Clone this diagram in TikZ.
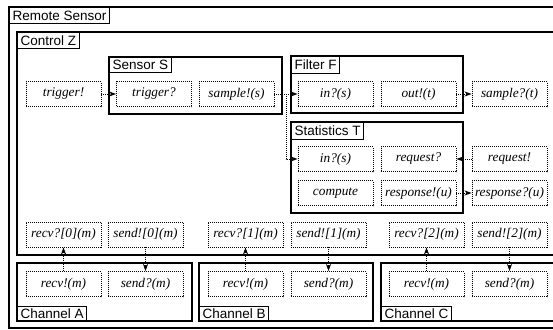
\documentclass[tikz,border=0pt]{standalone}
\usepackage{fontspec}
\setmainfont{Liberation Serif}
\setsansfont{Liberation Sans}
\usetikzlibrary{arrows.meta}
\tikzset{
  dnode/.style={draw, dash pattern=on 1pt off 1pt, line width=0.9pt, minimum width=75pt, minimum height=25pt, inner sep=0pt,
    font=\fontsize{13.3}{15}\selectfont\itshape},
  frame/.style={draw, line width=1.2pt},
  tag/.style={draw, line width=1.2pt, fill=white, inner xsep=3pt, inner ysep=0pt, minimum height=16pt,
    font=\fontsize{13.5}{15}\selectfont\sffamily},
  conn/.style={dash pattern=on 1pt off 1pt, line width=0.9pt, -{Stealth[length=7pt,width=5pt,inset=2pt]}}
}
\begin{document}
\begin{tikzpicture}[x=1pt,y=-1pt]
\useasboundingbox (0,0) rectangle (553,329);
\clip (0,0) rectangle (553,329);
% frames
\draw[frame] (9,7) rectangle (570,328);
\node[tag, anchor=north west] (tRS) at (9,7) {Remote Sensor};
\draw[frame] (17,32) rectangle (570,255);
\node[tag, anchor=north west] (tCZ) at (17,32) {Control Z};
\draw[frame] (109,57) rectangle (282,114);
\node[tag, anchor=north west, minimum height=15pt] (tSS) at (109,57) {Sensor S};
\draw[frame] (291,56) rectangle (463,113);
\node[tag, anchor=north west, minimum height=17pt] (tFF) at (291,56) {Filter F};
\draw[frame] (291,122) rectangle (463,213);
\node[tag, anchor=north west, minimum height=17pt] (tST) at (291,122) {Statistics T};
\draw[frame] (17,263) rectangle (192,321);
\node[tag, anchor=south west, minimum height=14pt] (tCA) at (17,321) {Channel A};
\draw[frame] (199,263) rectangle (373,321);
\node[tag, anchor=south west, minimum height=14pt] (tCB) at (199,321) {Channel B};
\draw[frame] (381,263) rectangle (570,321);
\node[tag, anchor=south west, minimum height=14pt] (tCC) at (381,321) {Channel C};
% nodes
\node[dnode] (trigE) at (63.5,94) {trigger!};
\node[dnode] (trigQ) at (154,94) {trigger?};
\node[dnode] (sampE) at (236.5,94) {sample!(s)};
\node[dnode] (fIn) at (335.5,94) {in?(s)};
\node[dnode] (fOut) at (418.5,94) {out!(t)};
\node[dnode] (sampQ) at (509.5,94) {sample?(t)};
\node[dnode] (sIn) at (335.5,159) {in?(s)};
\node[dnode] (reqQ) at (418.5,159) {request?};
\node[dnode] (reqE) at (509.5,159) {request!};
\node[dnode] (comp) at (335.5,193) {compute};
\node[dnode] (respE) at (418.5,193) {response!(u)};
\node[dnode] (respQ) at (509.5,193) {response?(u)};
\node[dnode] (rq0) at (63.5,234.5) {recv?[0](m)};
\node[dnode] (se0) at (145.5,234.5) {send![0](m)};
\node[dnode] (rq1) at (245.5,234.5) {recv?[1](m)};
\node[dnode] (se1) at (328.5,234.5) {send![1](m)};
\node[dnode] (rq2) at (426.5,234.5) {recv?[2](m)};
\node[dnode] (se2) at (509.5,234.5) {send![2](m)};
\node[dnode] (reA) at (63.5,284) {recv!(m)};
\node[dnode] (sqA) at (145.5,284) {send?(m)};
\node[dnode] (reB) at (245.5,284) {recv!(m)};
\node[dnode] (sqB) at (328.5,284) {send?(m)};
\node[dnode] (reC) at (426.5,284) {recv!(m)};
\node[dnode] (sqC) at (509.5,284) {send?(m)};
% connectors
\draw[conn] (trigE) -- (trigQ);
\coordinate (br) at (286,94);
\draw[conn] (sampE) -- (fIn);
\draw[conn] (br) |- (sIn.west);
\draw[conn] (fOut) -- (sampQ);
\draw[conn] (reqE) -- (reqQ);
\draw[conn] (respE) -- (respQ);
\draw[conn] (reA) -- (rq0);
\draw[conn] (se0) -- (sqA);
\draw[conn] (reB) -- (rq1);
\draw[conn] (se1) -- (sqB);
\draw[conn] (reC) -- (rq2);
\draw[conn] (se2) -- (sqC);
\end{tikzpicture}
\end{document}
